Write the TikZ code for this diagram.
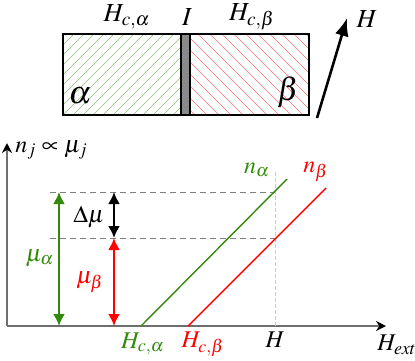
\documentclass[tikz,border=0pt]{standalone}
\usepackage{mathptmx}
\usetikzlibrary{arrows.meta}
\definecolor{mygreen}{RGB}{50,138,10}
\definecolor{axisgray}{RGB}{110,110,110}
\tikzset{
  lbl/.style={inner sep=0pt, font=\fontsize{12}{14}\selectfont},
  biglbl/.style={inner sep=0pt, font=\fontsize{16}{18}\selectfont},
  dimarrow/.style={line width=1.1pt, {Latex[length=6pt,width=6pt]}-{Latex[length=6pt,width=6pt]}},
  guide/.style={gray, dashed, dash pattern=on 3pt off 2pt, line width=0.4pt},
  curve/.style={line width=0.7pt},
  axis/.style={axisgray, line width=0.8pt, -{Stealth[black,length=5pt,width=5pt]}},
}
\begin{document}
\begin{tikzpicture}[x=0.5pt,y=-0.5pt]
\useasboundingbox (0,0) rectangle (415,360);
% hatching
\begin{scope}
  \clip (63,34) rectangle (181,115);
  \foreach \i in {-100,-90,...,130} \draw[mygreen!55, line width=0.3pt] (63+\i,115) -- ++(120,-120);
\end{scope}
\begin{scope}
  \clip (190,34) rectangle (309,115);
  \foreach \i in {-100,-88,...,130} \draw[red!55, line width=0.3pt] (190+\i,34) -- ++(120,120);
\end{scope}
\fill[gray!85!black!80] (181,34) rectangle (190,115);
\draw[line width=1pt] (63,34) rectangle (309,115);
\draw[line width=0.6pt] (181,34) -- (181,115) (190,34) -- (190,115);
% top labels
\node[lbl, font=\fontsize{13}{15}\selectfont] (hca) at (127,17) {$H_{c,\alpha}$};
\node[lbl, font=\fontsize{13}{15}\selectfont] (I) at (187,17) {$I$};
\node[lbl, font=\fontsize{13}{15}\selectfont] (hcb) at (252,17) {$H_{c,\beta}$};
\node[lbl, font=\fontsize{13}{15}\selectfont] (Htop) at (367,19) {$H$};
\node[biglbl] (alpha) at (80,96) {$\alpha$};
\node[biglbl] (beta) at (288,92) {$\beta$};
\coordinate (harrowtail) at (317,118);
\coordinate (harrowhead) at (347,18);
\draw[line width=1.3pt, -{Latex[length=9pt,width=7pt]}] (harrowtail) -- (harrowhead);
% axes
\coordinate (O) at (7,326);
\coordinate (ytop) at (7,143);
\coordinate (xend) at (386,326);
\draw[axis] (O) -- (ytop);
\draw[axis] (O) -- (xend);
\node[lbl, anchor=west] (ylab) at (15,150) {$n_j \propto \mu_j$};
\node[lbl] (xlab) at (397,345) {$H_{ext}$};
% guides
\coordinate (g1l) at (50,192);
\coordinate (g1r) at (275,192);
\coordinate (g2l) at (50,238);
\coordinate (g2r) at (275,238);
\coordinate (vtop) at (275,172);
\coordinate (vbot) at (275,326);
\draw[guide] (g1l) -- (g1r);
\draw[guide] (g2l) -- (g2r);
\draw[gray!40, line width=0.4pt, dashed, dash pattern=on 2pt off 1pt] (vtop) -- (vbot);
% curves
\coordinate (ga) at (141,326);
\coordinate (gb) at (287,179);
\coordinate (ra) at (188,326);
\coordinate (rb) at (326,188);
\draw[curve, mygreen] (ga) -- (gb);
\draw[curve, red] (ra) -- (rb);
\node[lbl, mygreen] (na) at (257,170) {$n_\alpha$};
\node[lbl, red] (nb) at (316,172) {$n_\beta$};
% dimension arrows
\coordinate (mat) at (59,192);
\coordinate (mab) at (59,326);
\coordinate (mbt) at (114,238);
\coordinate (mbb) at (114,326);
\coordinate (dt) at (114,192);
\draw[dimarrow, mygreen] (mat) -- (mab);
\draw[dimarrow, red] (mbt) -- (mbb);
\draw[dimarrow, black] (dt) -- (mbt);
\node[lbl] (dmu) at (89,217) {$\Delta\mu$};
\node[lbl, mygreen] (mua) at (40,258) {$\mu_\alpha$};
\node[lbl, red] (mub) at (90,282) {$\mu_\beta$};
% bottom labels
\node[lbl, mygreen] (hca2) at (143,344) {$H_{c,\alpha}$};
\node[lbl, red] (hcb2) at (203,344) {$H_{c,\beta}$};
\node[lbl] (Hbot) at (275,340) {$H$};
\end{tikzpicture}
\end{document}
